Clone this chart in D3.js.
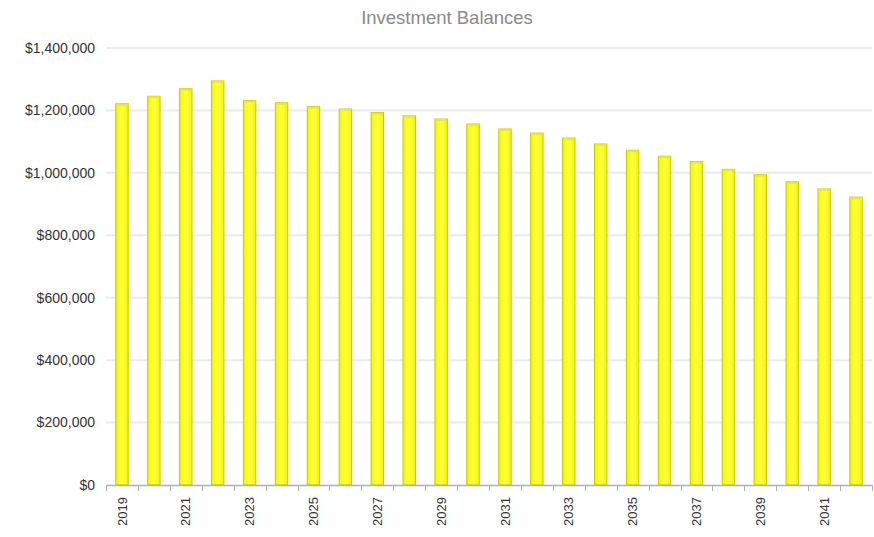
<!DOCTYPE html>
<html><head><meta charset="utf-8">
<script src="https://cdn.jsdelivr.net/npm/d3@7"></script>
<style>body{margin:0;background:#fff;}svg{display:block;font-family:Arial,"Liberation Sans",sans-serif;}</style>
</head><body><svg id="c" width="874" height="537"></svg>
<script>
const title = "Investment Balances";
const years = ["2019","2020","2021","2022","2023","2024","2025","2026","2027","2028","2029","2030","2031","2032","2033","2034","2035","2036","2037","2038","2039","2040","2041","2042"];
const balances = [1223000,1247000,1271000,1296000,1233000,1226000,1214000,1206000,1195000,1184000,1174000,1158000,1142000,1129000,1113000,1094000,1074000,1055000,1038000,1013000,996000,973000,950000,924000];
const yTicks = [0,200000,400000,600000,800000,1000000,1200000,1400000];
const xLabels = ["2019","2021","2023","2025","2027","2029","2031","2033","2035","2037","2039","2041"];

const svg = d3.select("#c");
const m = {left:106, right:872, top:48, bottom:485};
const x = d3.scaleBand().domain(years).range([m.left, m.right]).paddingInner(0).paddingOuter(0);
const y = d3.scaleLinear().domain([0,1400000]).range([m.bottom, m.top]);

const defs = svg.append("defs");
const g = defs.append("linearGradient").attr("id","bg").attr("x1","0").attr("x2","1").attr("y1","0").attr("y2","0");
g.append("stop").attr("offset","0%").attr("stop-color","#f5f500");
g.append("stop").attr("offset","50%").attr("stop-color","#ffff40");
g.append("stop").attr("offset","100%").attr("stop-color","#f5f500");

// grid
svg.append("g").selectAll("line").data(yTicks.slice(1)).join("line")
  .attr("x1", m.left).attr("x2", m.right)
  .attr("y1", d=>y(d)).attr("y2", d=>y(d))
  .attr("stroke","#ebebeb").attr("stroke-width",2);

// y labels
svg.append("g").selectAll("text").data(yTicks).join("text")
  .attr("x", 95).attr("y", d=>y(d)).attr("dy","0.35em")
  .attr("text-anchor","end").attr("font-size",14).attr("fill","#333")
  .text(d=>d3.format("$,")(d));

// bars
const bw = x.bandwidth()*0.42;
svg.append("g").selectAll("rect").data(years).join("rect")
  .attr("x", (d)=>x(d)+x.bandwidth()/2-bw/2+0.5)
  .attr("y", (d,i)=>y(balances[i])+0.5)
  .attr("width", bw-1)
  .attr("height", (d,i)=>y(0)-y(balances[i])-0.5)
  .attr("fill","url(#bg)").attr("stroke","#c8c800").attr("stroke-width",1);
svg.append("g").selectAll("line").data(years).join("line")
  .attr("x1", d=>x(d)+x.bandwidth()/2-bw/2+1).attr("x2", d=>x(d)+x.bandwidth()/2+bw/2-1)
  .attr("y1", (d,i)=>y(balances[i])+1.5).attr("y2", (d,i)=>y(balances[i])+1.5)
  .attr("stroke","#e6e64d").attr("stroke-width",2);

// x axis
const ax = svg.append("g");
ax.append("line").attr("x1",m.left).attr("x2",m.right).attr("y1",m.bottom+0.5).attr("y2",m.bottom+0.5)
  .attr("stroke","#b0b0b0").attr("stroke-width",1.5);
ax.selectAll("line.t").data(years.concat(["end"])).join("line").attr("class","t")
  .attr("x1",(d,i)=>Math.round(m.left + i*x.bandwidth())+0.5)
  .attr("x2",(d,i)=>Math.round(m.left + i*x.bandwidth())+0.5)
  .attr("y1",m.bottom).attr("y2",m.bottom+6)
  .attr("stroke","#b0b0b0").attr("stroke-width",1);
ax.selectAll("text").data(xLabels).join("text")
  .attr("transform", d=>`translate(${x(d)+x.bandwidth()/2},497) rotate(-90)`)
  .attr("dy","0.35em").attr("text-anchor","end").attr("font-size",13).attr("fill","#333")
  .text(d=>d);

svg.append("text").attr("x",447).attr("y",24).attr("text-anchor","middle")
  .attr("font-size",18.5).attr("fill","#8a8a8a").text(title);
</script></body></html>
